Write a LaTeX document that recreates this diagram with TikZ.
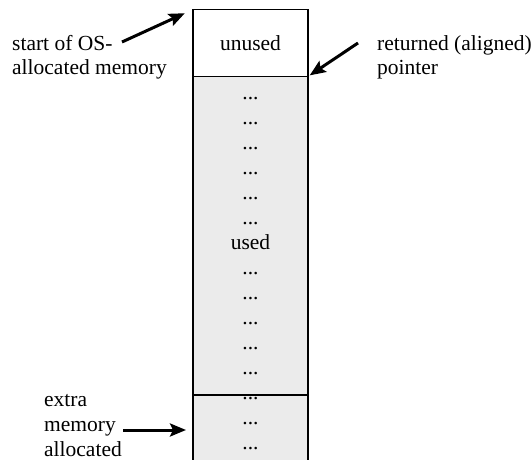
\documentclass[tikz,border=0pt]{standalone}
\usepackage{fontspec}
\setmainfont{Liberation Serif}
\usetikzlibrary{positioning}
\usetikzlibrary{arrows.meta}
\definecolor{usedColor}{rgb}{0.92,0.92,0.92}

\begin{document}
\begin{tikzpicture}[x=1pt,y=1pt]

  \tikzstyle{blockNode} = [draw, line width=1.2pt, minimum width=115pt, inner sep=0pt, outer sep=0pt, anchor=north, font=\fontsize{21.5}{25}\selectfont];
  \tikzstyle{unusedNode} = [blockNode, fill=white, minimum height=67pt];
  \tikzstyle{usedNode} = [blockNode, fill=usedColor, minimum height=318.5pt];
  \tikzstyle{extraNode} = [blockNode, fill=usedColor, minimum height=80pt];
  \tikzstyle{textNode} = [font=\fontsize{21.5}{25}\selectfont, align=left, inner sep=0pt];
  \tikzstyle{dotNode} = [font=\fontsize{21.5}{25}\selectfont, inner sep=0pt, anchor=base];
  \tikzstyle{ptrEdge} = [line width=3pt, -{Stealth[length=16pt,width=13pt,inset=3pt]}];

  \clip (0,0) rectangle (531,459);

  % the block, top to bottom
  \node[unusedNode] (unused) at (250.5,449.5) {unused};
  \node[usedNode] (used) at (unused.south) {};
  \node[extraNode] (extra) at (used.south) {};

  \foreach \k in {0,1,2,3,4,5,7,8,9,10,11,12,13,14}
    \node[dotNode] (dots\k) at (250.5,{359.5-25*\k}) {...};
  \node[dotNode] (usedText) at (250.5,209.5) {used};

  % labels (base = last line)
  \node[textNode, anchor=base west] (startLabel) at (12,384) {start of OS-\\allocated memory};
  \node[textNode, anchor=base west] (retLabel) at (377,384) {returned (aligned)\\pointer};
  \node[textNode, anchor=base west] (extraLabel) at (44,2.5) {extra\\memory\\allocated};

  \coordinate (startTail) at (122,417);
  \coordinate (retTail) at (358,416);
  \coordinate (extraTail) at (123,29);

  \draw[ptrEdge, shorten >=9pt] (startTail) -- (unused.north west);
  \draw[ptrEdge, shorten >=2pt] (retTail) -- (unused.south east);
  \draw[ptrEdge, shorten >=7pt] (extraTail) -- (extraTail -| extra.west);
\end{tikzpicture}
\end{document}
